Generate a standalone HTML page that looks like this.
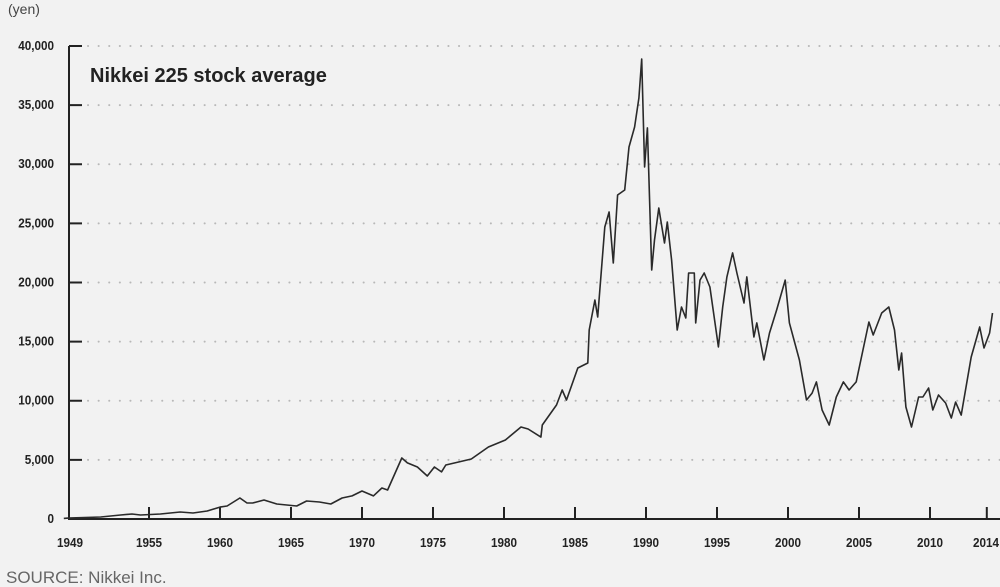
<!DOCTYPE html>
<html><head><meta charset="utf-8"><style>
html,body{margin:0;padding:0;background:#f2f2f2;}
svg{display:block;font-family:"Liberation Sans",sans-serif;}
</style></head><body>
<svg id="chart" width="1000" height="587" viewBox="0 0 1000 587">
<rect width="1000" height="587" fill="#f2f2f2"/>
<text x="8" y="14" font-size="14" fill="#444">(yen)</text>
<text x="90" y="82" font-size="20" font-weight="bold" fill="#222">Nikkei 225 stock average</text>
<text x="6" y="583" font-size="17" fill="#666">SOURCE: Nikkei Inc.</text>
<g id="grid"></g><g id="axes"></g><g id="line"></g>
</svg>
<script>
const yTicks=[0,5000,10000,15000,20000,25000,30000,35000,40000];
const yTickLabels=["0","5,000","10,000","15,000","20,000","25,000","30,000","35,000","40,000"];
const xTicks=[1949,1955,1960,1965,1970,1975,1980,1985,1990,1995,2000,2005,2010,2014];
const years=[1949.0,1949.3,1951.6,1953.0,1953.8,1954.4,1955.8,1957.2,1958.1,1959.1,1960.0,1960.5,1961.4,1961.9,1962.3,1963.1,1964.0,1965.4,1966.1,1967.0,1967.8,1968.6,1969.3,1970.0,1970.8,1971.4,1971.8,1972.8,1973.2,1973.9,1974.6,1975.1,1975.6,1975.9,1976.8,1977.7,1978.9,1980.1,1981.2,1981.7,1982.6,1982.7,1983.7,1984.1,1984.4,1985.2,1985.9,1986.0,1986.4,1986.6,1987.1,1987.4,1987.7,1988.0,1988.5,1988.8,1989.2,1989.5,1989.7,1989.9,1990.1,1990.4,1990.6,1990.9,1991.3,1991.5,1991.8,1992.2,1992.5,1992.8,1993.0,1993.4,1993.5,1993.8,1994.1,1994.5,1995.1,1995.4,1995.7,1996.1,1996.4,1996.9,1997.1,1997.6,1997.8,1998.3,1998.7,1999.2,1999.8,2000.1,2000.8,2001.3,2001.7,2002.0,2002.4,2002.9,2003.4,2003.9,2004.3,2004.8,2005.7,2006.0,2006.6,2007.1,2007.5,2007.8,2008.0,2008.3,2008.7,2009.2,2009.5,2009.9,2010.2,2010.6,2011.1,2011.5,2011.8,2012.2,2012.9,2013.5,2013.8,2014.2,2014.4];
const prices=[50,80,170,340,420,340,420,590,510,680,1010,1100,1780,1350,1350,1610,1270,1100,1520,1440,1270,1780,1950,2370,1950,2620,2450,5160,4740,4400,3640,4400,3980,4570,4820,5070,6090,6680,7780,7610,6930,7950,9640,10910,10060,12770,13190,15980,18520,17080,24690,25960,21650,27400,27820,31460,33150,35600,38900,29770,33070,21060,23590,26300,23340,25120,21900,15980,17930,17000,20800,20800,16580,20200,20800,19620,14550,17930,20470,22500,20800,18270,20470,15390,16580,13450,15730,17670,20200,16580,13450,10060,10650,11590,9220,7950,10320,11590,10910,11590,16660,15560,17420,17930,15980,12600,14040,9470,7780,10320,10320,11080,9220,10490,9810,8540,9890,8790,13700,16240,14460,15730,17420];
const NS='http://www.w3.org/2000/svg';
const xS=y=>149+(y-1955)*14.2;
const yS=v=>519-v*(473/40000);
function mk(tag,attrs,parent){const e=document.createElementNS(NS,tag);for(const k in attrs)e.setAttribute(k,attrs[k]);document.getElementById(parent).appendChild(e);return e;}
yTicks.forEach((t,i)=>{
  const y=yS(t);
  if(t>0){const g=mk('line',{x1:88,x2:1000,y1:y,y2:y,stroke:'#b8b8b8','stroke-width':2,'stroke-dasharray':'0.1 10.5','stroke-linecap':'round'},'grid');
  
  
  const tk=mk('line',{x1:69,x2:82,y1:y,y2:y,stroke:'#222','stroke-width':2},'axes');
  
  }
  const l=mk('text',{x:54,y:y+4,'text-anchor':'end','font-size':13,'font-weight':'bold',fill:'#222',transform:'translate('+(54*0.1)+' 0) scale(0.9 1)'},'axes');
  l.textContent=yTickLabels[i];
  
  
});
xTicks.forEach(t=>{
  const x=xS(t);
  if(t>1949){const tk=mk('line',{x1:x,x2:x,y1:507,y2:519,stroke:'#222','stroke-width':2},'axes');
  
  }
  const cx=t===1949?70:(t===2014?986:x);
  const l=mk('text',{x:cx,y:547,'text-anchor':'middle','font-size':13,'font-weight':'bold',fill:'#222',transform:'translate('+(cx*0.1)+' 0) scale(0.9 1)'},'axes');
  l.textContent=String(t);
  
  
});
const ya=mk('line',{x1:69,x2:69,y1:46,y2:520,stroke:'#222','stroke-width':2},'axes');


const xa=mk('line',{x1:68,x2:1000,y1:519,y2:519,stroke:'#222','stroke-width':2},'axes');


const d=years.map((y,i)=>(i?'L':'M')+xS(y).toFixed(1)+' '+yS(prices[i]).toFixed(1)).join(' ');
const p=mk('path',{d:d,fill:'none',stroke:'#2a2a2a','stroke-width':1.6,'stroke-linejoin':'round'},'line');


</script>
</body></html>
